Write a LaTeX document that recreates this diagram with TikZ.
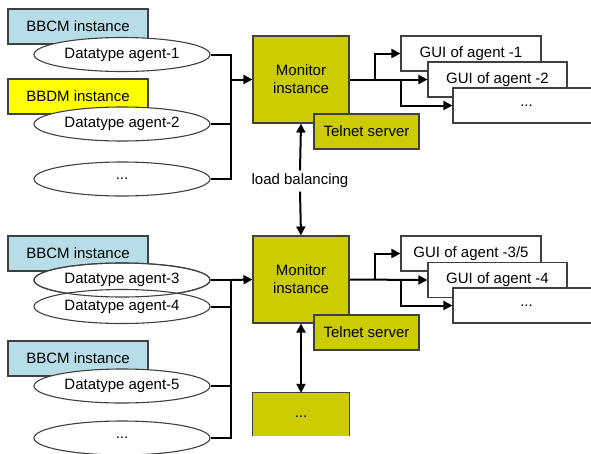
\documentclass[tikz,border=0pt]{standalone}
\usepackage{fontspec}
\setmainfont{Liberation Sans}
\usetikzlibrary{arrows.meta,shapes.geometric}
\definecolor{bbcm}{RGB}{183,222,232}
\definecolor{bbdm}{RGB}{255,255,0}
\definecolor{olive}{RGB}{204,204,0}
\definecolor{edge}{RGB}{64,64,64}
\tikzset{
  box/.style={draw=edge,line width=1.1pt,rectangle,inner sep=0pt,align=center},
  inst/.style={box,minimum width=140pt,minimum height=35pt},
  agent/.style={draw=edge,line width=1.1pt,ellipse,fill=white,inner sep=0pt,
                minimum width=176pt,minimum height=34pt},
  monbox/.style={box,fill=olive,minimum width=96pt,minimum height=87pt},
  telnet/.style={box,fill=olive,minimum width=105pt,minimum height=35pt},
  gui/.style={box,fill=white,minimum height=35pt},
  wire/.style={line width=2pt,black},
  arr/.style={wire,-{Triangle[length=9pt,width=9pt]}},
  biarr/.style={wire,{Triangle[length=9pt,width=9pt]}-{Triangle[length=9pt,width=9pt]}},
}
\begin{document}
\begin{tikzpicture}[x=1pt,y=-1pt,font=\fontsize{15}{18}\selectfont]
\useasboundingbox (0,0) rectangle (591,453);
\clip (0,0) rectangle (591,453);
\fill[white] (0,0) rectangle (591,453);

% ---------- upper group ----------
\node[inst,fill=bbcm] (i1) at (78,26.5) {BBCM instance};
\node[agent] (e1) at (122,54.5) {Datatype agent-1};
\node[inst,fill=bbdm] (i2) at (78,96.5) {BBDM instance};
\node[agent] (e2) at (122,124) {Datatype agent-2};
\node[agent] (e3) at (122,179) {...};

\node[monbox] (m1) at (301,79.5) {Monitor\\instance};
\node[telnet] (t1) at (366.5,131.5) {Telnet server};

\node[gui,minimum width=140pt] (g1) at (471,53.5) {GUI of agent -1};
\node[gui,minimum width=139pt] (g2) at (497.5,79.5) {GUI of agent -2};
\node[gui,minimum width=147pt] (g3) at (526.5,105.5) {...};

\coordinate (busA) at (231,79.5);
\draw[wire] (e1.east) -- (e1.east -| busA) -- (e3.east -| busA) -- (e3.east);
\draw[wire] (e2.east) -- (e2.east -| busA);
\draw[arr] (busA) -- (m1.west);

\coordinate (fa) at (375,79.5);
\coordinate (fb) at (401,79.5);
\draw[arr] (m1.east) -- (g2.west);
\draw[arr] (fa) |- (g1.west);
\draw[arr] (fb) |- (g3.west);

% ---------- load balancing ----------
\node (lb) at (300,181) {load balancing};

% ---------- lower group ----------
\node[inst,fill=bbcm] (i3) at (78,253.5) {BBCM instance};
\node[agent] (e4) at (122,280) {Datatype agent-3};
\node[agent] (e5) at (122,306.5) {Datatype agent-4};
\draw[draw=edge,line width=1.1pt] (e4.center) ellipse [x radius=88pt,y radius=17pt];
\node[inst,fill=bbcm] (i4) at (78,358.5) {BBCM instance};
\node[agent] (e6) at (122,386) {Datatype agent-5};
\node[agent] (e7) at (122,438) {...};

\node[monbox] (m2) at (301,279.5) {Monitor\\instance};
\node[telnet] (t2) at (366.5,332.5) {Telnet server};

\node[gui,minimum width=140pt] (g4) at (471,253.5) {GUI of agent -3/5};
\node[gui,minimum width=139pt] (g5) at (497.5,280) {GUI of agent -4};
\node[gui,minimum width=147pt] (g6) at (526.5,305.5) {...};

\coordinate (busB) at (231,280);
\draw[wire] (e4.east) -- (e4.east -| busB) -- (e7.east -| busB) -- (e7.east);
\draw[wire] (e5.east) -- (e5.east -| busB);
\draw[wire] (e6.east) -- (e6.east -| busB);
\draw[arr] (busB) -- (m2.west);

\coordinate (fc) at (375,280);
\coordinate (fd) at (401,280);
\draw[arr] (m2.east) -- (g5.west);
\draw[arr] (fc) |- (g4.west);
\draw[arr] (fd) |- (g6.west);

% ---------- further monitor ----------
\node[fill=olive,minimum width=96pt,minimum height=43pt,inner sep=0pt] (m3) at (301,414.5) {\raisebox{-6pt}{...}};
\draw[draw=edge,line width=1.1pt] (m3.south west) -- (m3.north west) -- (m3.north east) -- (m3.south east);

\draw[arr] (lb.north) -- (m1.south);
\draw[arr] (lb.south) -- (m2.north);
\draw[biarr] (m2.south) -- (m3.north);
\end{tikzpicture}
\end{document}
